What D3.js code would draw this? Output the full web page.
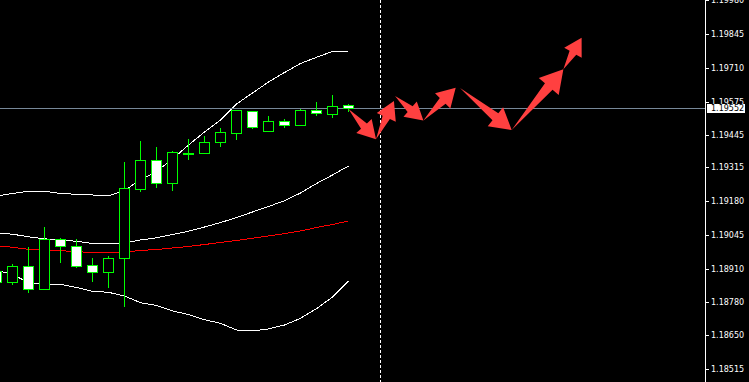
<!DOCTYPE html>
<html>
<head>
<meta charset="utf-8">
<script src="https://cdn.jsdelivr.net/npm/d3@7"></script>
<style>
  html, body { margin: 0; padding: 0; background: #000; }
  svg { display: block; }
</style>
</head>
<body>
<svg id="chart" width="749" height="382"></svg>
<script>
// ---------- data ----------
const barIndex = [-1,0,1,2,3,4,5,6,7,8,9,10,11,12,13,14,15,16,17,18,19,20,21];
const openP  = [1.189037,1.188613,1.189224,1.188335,1.190307,1.190017,1.189263,1.189009,1.189541,1.192302,1.193428,1.192516,1.193706,1.193706,1.194142,1.194523,1.195372,1.194603,1.194975,1.194841,1.195424,1.195277,1.195622];
const highP  = [1.189117,1.189327,1.189977,1.190794,1.190346,1.190307,1.189553,1.189632,1.193349,1.194194,1.193968,1.193809,1.194273,1.194392,1.194710,1.195412,1.195372,1.195186,1.195067,1.195463,1.195741,1.196019,1.195674];
const lowP   = [1.188522,1.188510,1.188216,1.188335,1.189406,1.189208,1.188652,1.188414,1.187649,1.192211,1.192381,1.192250,1.193492,1.193706,1.194007,1.194285,1.194710,1.194603,1.194761,1.194841,1.195237,1.195158,1.195384];
const closeP = [1.188613,1.189224,1.188335,1.190307,1.190017,1.189247,1.189009,1.189553,1.192330,1.193428,1.192516,1.193746,1.193730,1.194142,1.194539,1.195412,1.194761,1.194975,1.194841,1.195412,1.195317,1.195582,1.195520];

const upperBand  = [1.192012,1.192111,1.192199,1.192199,1.192111,1.192080,1.192052,1.192012,1.192230,1.192659,1.192984,1.193480,1.194035,1.194551,1.195027,1.195662,1.196098,1.196534,1.196911,1.197268,1.197514,1.197744,1.197764];
const innerBand  = [1.190545,1.190497,1.190394,1.190315,1.190267,1.190215,1.190128,1.190120,1.190156,1.190267,1.190354,1.190485,1.190616,1.190783,1.190957,1.191159,1.191378,1.191596,1.191826,1.192131,1.192508,1.192845,1.193202];
const redMA      = [1.190029,1.189981,1.189894,1.189878,1.189846,1.189799,1.189779,1.189779,1.189791,1.189850,1.189890,1.189950,1.190009,1.190088,1.190168,1.190247,1.190338,1.190426,1.190521,1.190624,1.190763,1.190882,1.191021];
const lowerBand  = [1.189057,1.188918,1.188561,1.188510,1.188510,1.188383,1.188232,1.188192,1.188046,1.187780,1.187669,1.187451,1.187312,1.187106,1.186963,1.186697,1.186657,1.186737,1.186895,1.187161,1.187542,1.188006,1.188641];

const currentPrice = 1.19552;
const currentLabel = "1.19552";
const separatorBar = 23;

const tickValues = [1.19980,1.19845,1.19710,1.19575,1.19445,1.19315,1.19180,1.19045,1.18910,1.18780,1.18650,1.18515];
const tickLabels = ["1.19980","1.19845","1.19710","1.19575","1.19445","1.19315","1.19180","1.19045","1.18910","1.18780","1.18650","1.18515"];

// forecast arrows (bar index, price)
const arrowFromBar   = [21.0, 22.72, 23.91, 25.68, 27.97, 31.2, 34.43];
const arrowFromPrice = [1.195463,1.194261,1.195979,1.195007,1.196296,1.194630,1.197038];
const arrowToBar     = [22.72, 23.84, 25.68, 27.7, 31.2, 34.43, 35.57];
const arrowToPrice   = [1.194261,1.195781,1.195007,1.196308,1.194630,1.197038,1.198292];

// ---------- layout ----------
const W = 749, H = 382;
const axisX = 705.5;
const svg = d3.select("#chart");

const x = d3.scaleLinear().domain([0, 1]).range([12.5, 28.5]);
const y = d3.scaleLinear().domain([1.199787, 1.184634]).range([0, H]);

svg.append("rect").attr("width", W).attr("height", H).attr("fill", "#000");

const plot = svg.append("g");
plot.append("clipPath").attr("id", "clip")
  .append("rect").attr("x", 0).attr("y", 0).attr("width", 705).attr("height", H);
const g = plot.append("g").attr("clip-path", "url(#clip)");

// indicator lines
const mkLine = arr => d3.line()
  .x((d, i) => x(barIndex[i]))
  .y(d => y(d))(arr);

[[upperBand, "#ffffff"], [innerBand, "#ffffff"], [lowerBand, "#ffffff"], [redMA, "#ff0000"]]
  .forEach(([arr, col]) => {
    g.append("path").attr("d", mkLine(arr))
      .attr("fill", "none").attr("stroke", col).attr("stroke-width", 1)
      .attr("shape-rendering", "crispEdges");
  });

// current price line
const py = Math.round(y(currentPrice)) + 0.5;
g.append("line").attr("x1", 0).attr("x2", 705).attr("y1", py).attr("y2", py)
  .attr("stroke", "#778899").attr("stroke-width", 1);

// candles
barIndex.forEach((b, i) => {
  const cx = x(b);
  const o = openP[i], c = closeP[i];
  g.append("line")
    .attr("x1", cx).attr("x2", cx)
    .attr("y1", Math.round(y(highP[i]))).attr("y2", Math.round(y(lowP[i])) + 1)
    .attr("stroke", "#00ff00").attr("stroke-width", 1);
  const top = Math.round(y(Math.max(o, c)));
  const bot = Math.round(y(Math.min(o, c)));
  g.append("rect")
    .attr("x", cx - 5).attr("y", top + 0.5)
    .attr("width", 10).attr("height", Math.max(bot - top, 1))
    .attr("fill", c < o ? "#ffffff" : "#000000")
    .attr("stroke", "#00ff00").attr("stroke-width", 1);
});

// vertical dashed separator
const sx = x(separatorBar);
g.append("line").attr("x1", sx).attr("x2", sx).attr("y1", 0).attr("y2", H)
  .attr("stroke", "#ffffff").attr("stroke-width", 1).attr("stroke-dasharray", "3,2");

// arrows
function arrowPoints(x1, y1, x2, y2) {
  const dx = x2 - x1, dy = y2 - y1, len = Math.hypot(dx, dy);
  const ux = dx / len, uy = dy / len, nx = -uy, ny = ux;
  const hl = 13 + 0.12 * len, hw = 0.58 * hl, sw = 0.22 * hl;
  const bx = x2 - ux * hl, by = y2 - uy * hl;
  return [[x1, y1], [bx + nx * sw, by + ny * sw], [bx + nx * hw, by + ny * hw], [x2, y2],
          [bx - nx * hw, by - ny * hw], [bx - nx * sw, by - ny * sw]];
}
arrowFromBar.forEach((fb, i) => {
  const pts = arrowPoints(x(fb), y(arrowFromPrice[i]), x(arrowToBar[i]), y(arrowToPrice[i]));
  g.append("polygon").attr("points", pts.map(p => p.join(",")).join(" "))
    .attr("fill", "#ff4040");
});

// right axis
svg.append("line").attr("x1", axisX).attr("x2", axisX).attr("y1", 0).attr("y2", H)
  .attr("stroke", "#ffffff").attr("stroke-width", 1);

const axis = svg.append("g");
tickValues.forEach((v, i) => {
  const ty = Math.round(y(v)) + 0.5;
  axis.append("line").attr("x1", 705).attr("x2", 709).attr("y1", ty).attr("y2", ty)
    .attr("stroke", "#ffffff").attr("stroke-width", 1);
  axis.append("text").attr("x", 711).attr("y", ty).attr("dy", "0.35em")
    .attr("fill", "#ffffff").attr("font-family", "DejaVu Sans")
    .attr("font-size", "8px").text(tickLabels[i]);
});

// current price label box
svg.append("rect").attr("x", 707).attr("y", py - 4.5).attr("width", 38).attr("height", 9)
  .attr("fill", "#ffffff");
svg.append("text").attr("x", 711).attr("y", py).attr("dy", "0.35em")
  .attr("fill", "#000000").attr("font-family", "DejaVu Sans")
  .attr("font-size", "8px").text(currentLabel);
</script>
</body>
</html>
